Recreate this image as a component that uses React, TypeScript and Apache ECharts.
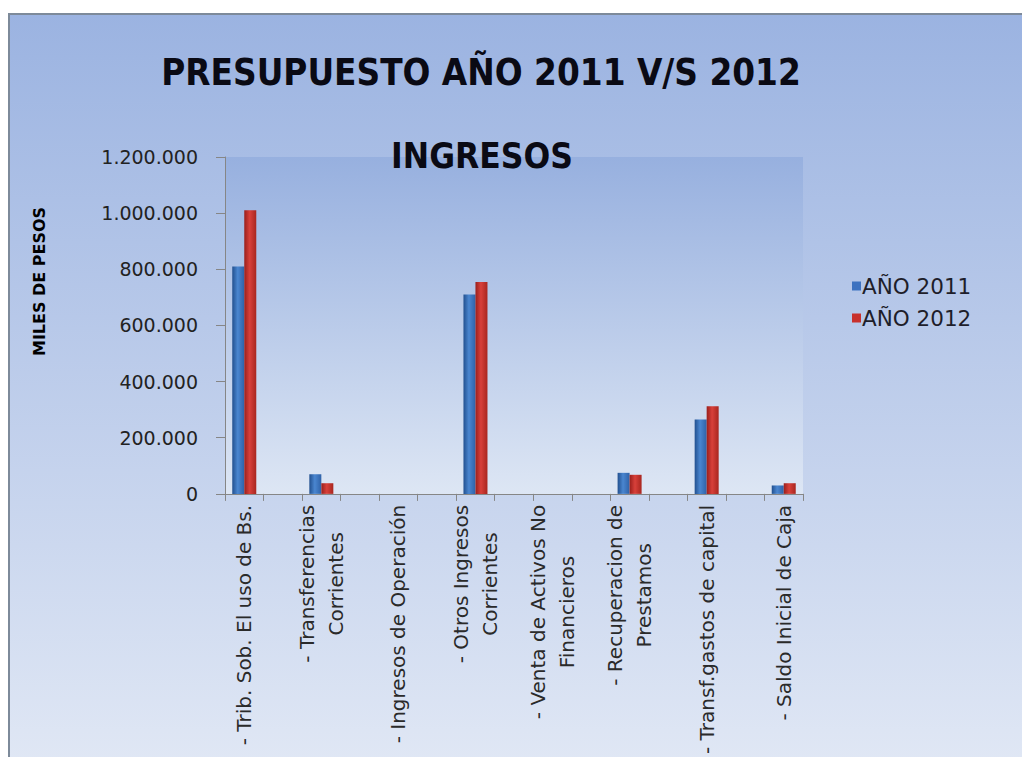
import React, { useEffect, useRef } from "react";
import * as echarts from "echarts";

const categories: string[] = [
  "- Trib. Sob. El uso de Bs.",
  "",
  "- Transferencias\nCorrientes",
  "",
  "- Ingresos de Operación",
  "",
  "- Otros Ingresos\nCorrientes",
  "",
  "- Venta de Activos No\nFinancieros",
  "",
  "- Recuperacion de\nPrestamos",
  "",
  "- Transf.gastos de capital",
  "",
  "- Saldo Inicial de Caja",
];

const values2011: (number | null)[] = [810000, null, 70000, null, 0, null, 710000, null, 0, null, 75000, null, 265000, null, 30000];
const values2012: (number | null)[] = [1010000, null, 38000, null, 0, null, 755000, null, 0, null, 68000, null, 312000, null, 38000];

const seriesNames = ["AÑO 2011", "AÑO 2012"];
const yTicks = { min: 0, max: 1200000, interval: 200000 };

const mainTitle = "PRESUPUESTO AÑO 2011 V/S 2012";
const subTitle = "INGRESOS";
const yAxisName = "MILES DE PESOS";

const fmt = (v: number) => String(v).replace(/\B(?=(\d{3})+(?!\d))/g, ".");

const FONT = "DejaVu Sans";
const TITLE_FONT = "'DejaVu Sans Condensed', 'Liberation Sans', sans-serif";

export default function App() {
  const ref = useRef<HTMLDivElement>(null);
  useEffect(() => {
    if (!ref.current) return;
    const chart = echarts.init(ref.current, undefined, { renderer: "svg" });
    const blueGrad = new echarts.graphic.LinearGradient(0, 0, 1, 0, [
      { offset: 0, color: "#22508f" },
      { offset: 0.45, color: "#4a86d0" },
      { offset: 1, color: "#2f62a8" },
    ]);
    const redGrad = new echarts.graphic.LinearGradient(0, 0, 1, 0, [
      { offset: 0, color: "#9a1f1c" },
      { offset: 0.45, color: "#d8403a" },
      { offset: 1, color: "#a8261f" },
    ]);
    chart.setOption({
      animation: false,
      backgroundColor: "#ffffff",
      graphic: [
        {
          type: "rect",
          z: -10,
          silent: true,
          shape: { x: 9, y: 14, width: 1020, height: 760 },
          style: {
            fill: new echarts.graphic.LinearGradient(0, 0, 0, 1, [
              { offset: 0, color: "#9bb3e1" },
              { offset: 1, color: "#e1e8f5" },
            ]),
            stroke: "#7d8a9a",
            lineWidth: 2,
          },
        },
      ],
      title: [
        {
          text: mainTitle,
          left: 476,
          top: 49,
          textAlign: "center",
          textStyle: { fontFamily: TITLE_FONT, fontWeight: "bold", fontSize: 36.5, color: "#0a0a14" },
        },
        {
          text: subTitle,
          left: 477,
          top: 133,
          textAlign: "center",
          textStyle: { fontFamily: TITLE_FONT, fontWeight: "bold", fontSize: 35, color: "#0a0a14" },
        },
      ],
      legend: {
        orient: "vertical",
        left: 847,
        top: 270,
        itemWidth: 9,
        itemHeight: 9,
        itemGap: 10,
        icon: "rect",
        textStyle: { fontFamily: FONT, fontSize: 21.5, color: "#1e1e2a", padding: [0, 0, 0, -4] },
        data: [
          { name: seriesNames[0], itemStyle: { color: "#3d72c0" } },
          { name: seriesNames[1], itemStyle: { color: "#c8302c" } },
        ],
      },
      grid: {
        left: 225,
        right: 219,
        top: 157,
        bottom: 260,
        show: true,
        borderWidth: 0,
        backgroundColor: new echarts.graphic.LinearGradient(0, 0, 0, 1, [
          { offset: 0, color: "#97b0df" },
          { offset: 1, color: "#dde6f4" },
        ]),
      },
      xAxis: {
        type: "category",
        data: categories,
        boundaryGap: true,
        axisLine: { show: true, lineStyle: { color: "#868686", width: 1 } },
        axisTick: { show: true, interval: 0, length: 7, alignWithLabel: false, lineStyle: { color: "#868686" } },
        axisLabel: {
          interval: 0,
          rotate: 90,
          margin: 11,
          color: "#2a2a2a",
          fontFamily: FONT,
          fontSize: 20,
          lineHeight: 29,
          formatter: (v: string) =>
            v
              .split("\n")
              .map((l) => "{c|" + l + "}")
              .join("\n"),
          rich: { c: { align: "center", fontFamily: FONT, fontSize: 20, lineHeight: 29, color: "#2a2a2a" } },
        },
        splitLine: { show: false },
      },
      yAxis: {
        type: "value",
        min: yTicks.min,
        max: yTicks.max,
        interval: yTicks.interval,
        name: yAxisName,
        nameLocation: "middle",
        nameRotate: 90,
        nameGap: 178,
        nameTextStyle: { fontFamily: FONT, fontWeight: "bold", fontSize: 16, color: "#000", padding: [0, 0, 0, 88] },
        axisLine: { show: true, lineStyle: { color: "#868686", width: 1 } },
        axisTick: { show: true, inside: false, length: 9, lineStyle: { color: "#868686" } },
        axisLabel: { margin: 27, color: "#222", fontFamily: FONT, fontSize: 19, formatter: (v: number) => fmt(v) },
        splitLine: { show: false },
      },
      series: [
        {
          name: seriesNames[0],
          type: "bar",
          data: values2011,
          barWidth: 12,
          barGap: "0%",
          itemStyle: { color: blueGrad },
        },
        {
          name: seriesNames[1],
          type: "bar",
          data: values2012,
          barWidth: 12,
          barGap: "0%",
          itemStyle: { color: redGrad },
        },
      ],
    });
    return () => chart.dispose();
  }, []);
  return (
    <div
      ref={ref}
      style={{ position: "fixed", left: 0, top: 0, width: 1022, height: 757 }}
    />
  );
}
